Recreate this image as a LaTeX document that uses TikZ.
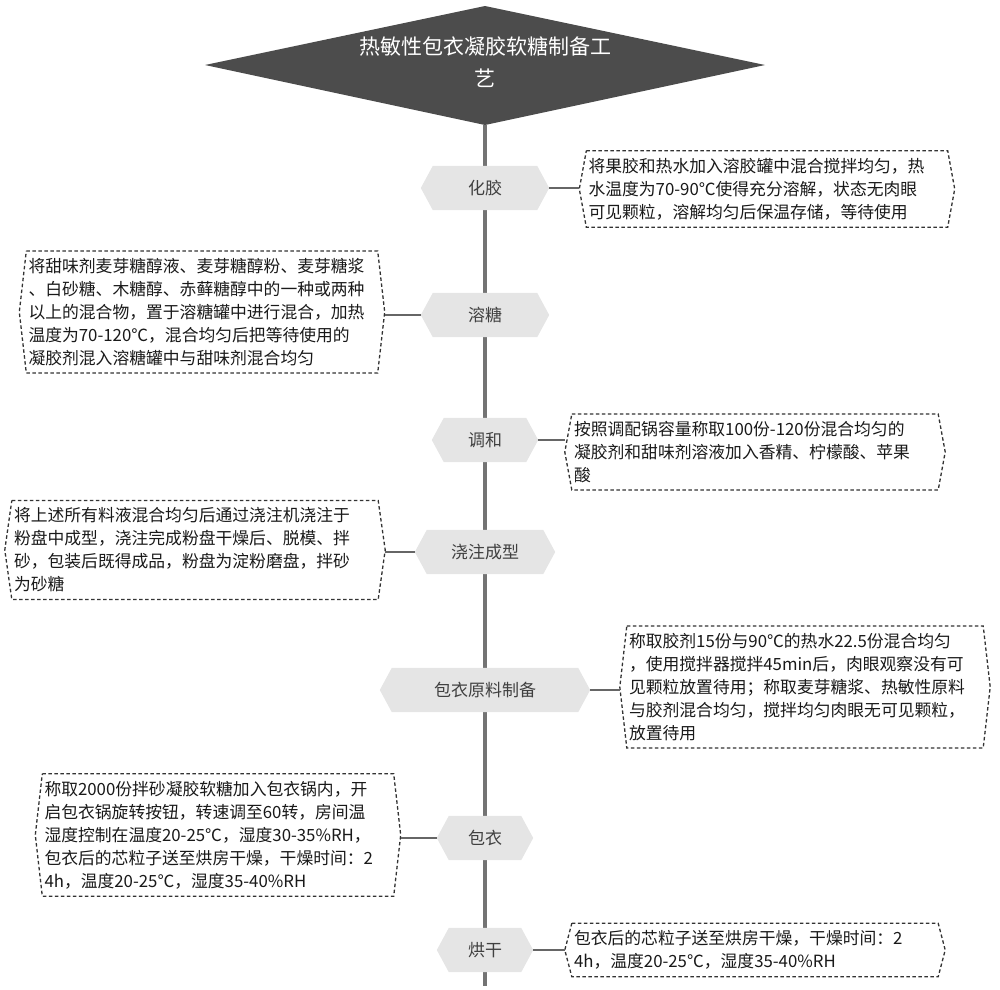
\documentclass[tikz,border=0pt]{standalone}
\usepackage{fontspec}
\setmainfont{Noto Sans CJK SC}
\usetikzlibrary{calc}
\tikzset{
 stepnode/.style={inner sep=0pt, font=\fontsize{17}{20}\selectfont, text=black!75},
 notenode/.style={inner xsep=9pt, inner ysep=7pt, align=left, font=\fontsize{16.8}{23}\selectfont, text=black!90},
 spine/.style={line width=3.5pt, draw=black!55},
 link/.style={line width=1.4pt, draw=black!60},
}
\newcommand{\hexbox}[3]{% node, offset, style
 \path[#3] ($(#1.north west)+(#2,0)$) -- ($(#1.north east)+(-#2,0)$) -- (#1.east) -- ($(#1.south east)+(-#2,0)$) -- ($(#1.south west)+(#2,0)$) -- (#1.west) -- cycle;}
\begin{document}
\begin{tikzpicture}[x=1pt,y=-1pt]
\useasboundingbox (0,0) rectangle (1000,989);
\coordinate (top) at (485,125);
\coordinate (bot) at (485,986);
\draw[spine] (top) -- (bot);
\fill[black!70] (205,65) -- (485,6) -- (765,65) -- (485,125) -- cycle;
\node[align=center,text=white,font=\fontsize{21}{32}\selectfont] (title) at (485,62) {热敏性包衣凝胶软糖制备工\\艺};
\foreach \n/\t/\x/\w/\y in {s1/化胶/485/128/188, s2/溶糖/485/128/315, s3/调和/485/106/440, s4/浇注成型/485/140/552, s5/包衣原料制备/485/210/690, s6/包衣/485/96/838, s7/烘干/485/96/950}{
 \node[stepnode, minimum width=\w, minimum height=44] (\n) at (\x,\y) {};
 \hexbox{\n}{12}{fill=black!10}
 \node[stepnode] at (\n) {\t};
}
\node[notenode, text width=357] (n1) at (767,189) {将果胶和热水加入溶胶罐中混合搅拌均匀，热\\水温度为70-90℃使得充分溶解，状态无肉眼\\可见颗粒，溶解均匀后保温存储，等待使用};
\node[notenode, text width=347] (n2) at (202,312) {将甜味剂麦芽糖醇液、麦芽糖醇粉、麦芽糖浆\\、白砂糖、木糖醇、赤藓糖醇中的一种或两种\\以上的混合物，置于溶糖罐中进行混合，加热\\温度为70-120℃，混合均匀后把等待使用的\\凝胶剂混入溶糖罐中与甜味剂混合均匀};
\node[notenode, text width=362] (n3) at (755,452) {按照调配锅容量称取100份-120份混合均匀的\\凝胶剂和甜味剂溶液加入香精、柠檬酸、苹果\\酸};
\node[notenode, text width=362] (n4) at (195,550) {将上述所有料液混合均匀后通过浇注机浇注于\\粉盘中成型，浇注完成粉盘干燥后、脱模、拌\\砂，包装后既得成品，粉盘为淀粉磨盘，拌砂\\为砂糖};
\node[notenode, text width=352] (n5) at (805,687) {称取胶剂15份与90℃的热水22.5份混合均匀\\，使用搅拌器搅拌45min后，肉眼观察没有可\\见颗粒放置待用；称取麦芽糖浆、热敏性原料\\与胶剂混合均匀，搅拌均匀肉眼无可见颗粒，\\放置待用};
\node[notenode, text width=347] (n6) at (218,835) {称取2000份拌砂凝胶软糖加入包衣锅内，开\\启包衣锅旋转按钮，转速调至60转，房间温\\湿度控制在温度20-25℃，湿度30-35\%RH，\\包衣后的芯粒子送至烘房干燥，干燥时间：2\\4h，温度20-25℃，湿度35-40\%RH};
\node[notenode, text width=362] (n7) at (755,950) {包衣后的芯粒子送至烘房干燥，干燥时间：2\\4h，温度20-25℃，湿度35-40\%RH};
\foreach \n in {n1,n2,n3,n4,n5,n6,n7}{\hexbox{\n}{7}{draw=black!80,dash pattern=on 3.5pt off 2.5pt,line width=1.3pt}}
\draw[link] (s1.east) -- (s1.east -| n1.west);
\draw[link] (s2.west) -- (s2.west -| n2.east);
\draw[link] (s3.east) -- (s3.east -| n3.west);
\draw[link] (s4.west) -- (s4.west -| n4.east);
\draw[link] (s5.east) -- (s5.east -| n5.west);
\draw[link] (s6.west) -- (s6.west -| n6.east);
\draw[link] (s7.east) -- (s7.east -| n7.west);
\end{tikzpicture}
\end{document}
